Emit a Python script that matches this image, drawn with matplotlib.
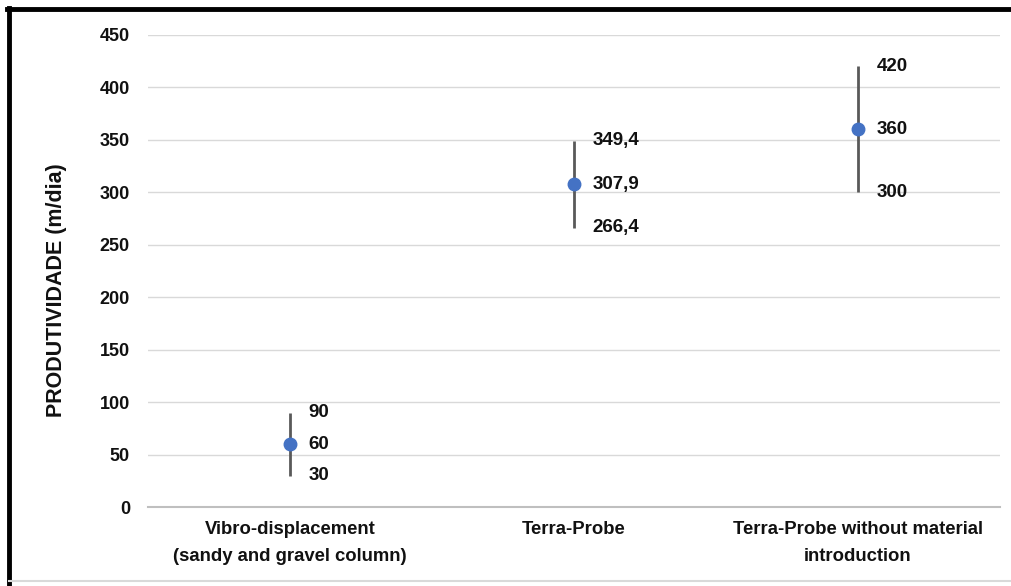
import matplotlib.pyplot as plt
from matplotlib.lines import Line2D

# dados
categorias = ['Vibro-displacement\n(sandy and gravel column)',
              'Terra-Probe',
              'Terra-Probe without material\nintroduction']
media = [60, 307.9, 360]
minimo = [30, 266.4, 300]
maximo = [90, 349.4, 420]

plt.rcParams['font.family'] = ['Liberation Sans', 'DejaVu Sans']
plt.rcParams['font.weight'] = 'bold'

fig = plt.figure(figsize=(10.11, 5.86), dpi=100)
ax = fig.add_axes([0.1464, 0.1348, 0.8426, 0.8055])

x = list(range(len(categorias)))
err_baixo = [m - lo for m, lo in zip(media, minimo)]
err_cima = [hi - m for m, hi in zip(media, maximo)]

ax.errorbar(x, media, yerr=[err_baixo, err_cima], fmt='o', color='#4472C4',
            ecolor='#595959', elinewidth=2, capsize=0, markersize=9, zorder=3)


def fmt(v):
    if v == int(v):
        return str(int(v))
    return f'{v:.1f}'.replace('.', ',')


for xi, m, lo, hi in zip(x, media, minimo, maximo):
    for v in (hi, m, lo):
        ax.annotate(fmt(v), (xi, v), xytext=(13.5, 0), textcoords='offset points',
                    ha='left', va='center', fontsize=13.5, fontweight='bold', color='#111111')

ax.set_xlim(-0.5, 2.5)
ax.set_ylim(0, 450)
ax.set_yticks(range(0, 451, 50))
ax.set_xticks(x)
ax.set_xticklabels(categorias, fontsize=13.3, fontweight='bold', color='#111111', linespacing=1.8)
ax.tick_params(axis='y', labelsize=13, colors='#111111', length=0, pad=13)
ax.tick_params(axis='x', length=0, pad=10)
for lab in ax.get_yticklabels():
    lab.set_fontweight('bold')

ax.grid(axis='y', color='#d9d9d9', linewidth=1)
ax.set_axisbelow(True)
for s in ['top', 'right', 'left']:
    ax.spines[s].set_visible(False)
ax.spines['bottom'].set_color('#bfbfbf')
ax.spines['bottom'].set_linewidth(1.5)

ax.set_ylabel('PRODUTIVIDADE (m/dia)', fontsize=15.5, fontweight='bold', color='#111111')
ax.yaxis.set_label_coords(-0.095, 0.46)

# moldura
fig.add_artist(Line2D([0.0069, 1.0], [0.9846, 0.9846], transform=fig.transFigure, color='black', linewidth=3.5))
fig.add_artist(Line2D([0.0089, 0.0089], [0.0, 0.987], transform=fig.transFigure, color='black', linewidth=3.5))
fig.add_artist(Line2D([0.0089, 1.0], [0.009, 0.009], transform=fig.transFigure, color='#d9d9d9', linewidth=1.5))

plt.savefig('out.png', dpi=100)
